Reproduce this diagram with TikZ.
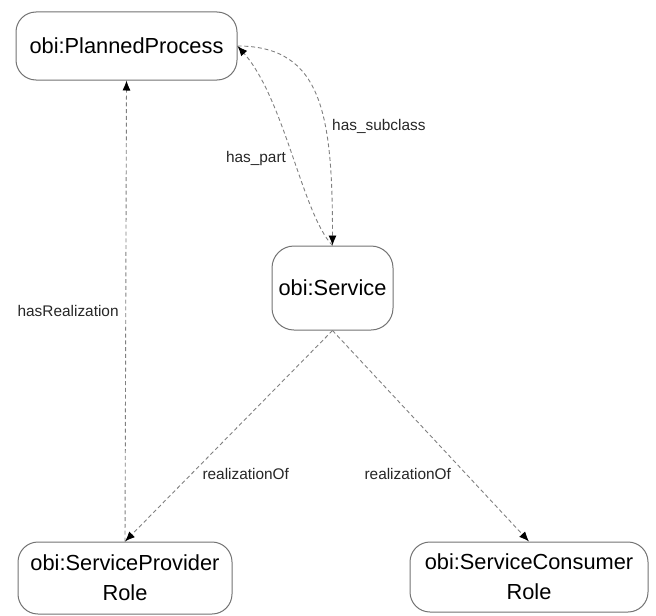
\documentclass[tikz,border=0pt]{standalone}
\usepackage{fontspec}
\setmainfont{Liberation Sans}
\usepackage{tikz}
\usetikzlibrary{arrows.meta}
\usetikzlibrary{positioning}

\begin{document}
\begin{tikzpicture}[
x=0.5pt, y=-0.5pt,
classbox/.style={rectangle, rounded corners=10pt, draw=black!55, line width=0.5pt, fill=white,
    inner sep=0pt, align=center, font=\fontsize{10.9}{15}\selectfont},
rel/.style={draw=black!50, line width=0.45pt, dash pattern=on 2pt off 1.4pt,
    -{Latex[length=5pt, width=4pt, color=black]}},
lbl/.style={font=\fontsize{7.7}{9}\selectfont, text=black!85}
]
\useasboundingbox (0,0) rectangle (656,615);
% Classes
\node[classbox, minimum width=110.5pt, minimum height=34pt] (pp) at (126.5,46) {obi:PlannedProcess};
\node[classbox, minimum width=60.5pt, minimum height=42pt, rounded corners=11pt] (svc) at (332.5,288) {obi:Service};
\node[classbox, minimum width=107pt, minimum height=36pt] (spr) at (125,578) {obi:ServiceProvider\\Role};
\node[classbox, minimum width=119pt, minimum height=35pt] (scr) at (529,577) {obi:ServiceConsumer\\Role};
% Relations
\draw[rel] (pp.east) .. controls +(85,0) and +(0,-130) .. (svc.north)
    node[lbl, pos=0.63, right] {has\_subclass};
\draw[rel] (svc.north) .. controls +(-30,-31) and +(47,53) .. (pp.east)
    node[lbl, pos=0.48, left] {has\_part};
\draw[rel] (spr.north) -- (pp.south) node[lbl, midway, left] {hasRealization};
\draw[rel] (svc.south) -- (spr.north) node[lbl, pos=0.68, right=2pt] {realizationOf};
\draw[rel] (svc.south) -- (scr.north) node[lbl, pos=0.68, left=4pt] {realizationOf};
\end{tikzpicture}
\end{document}
